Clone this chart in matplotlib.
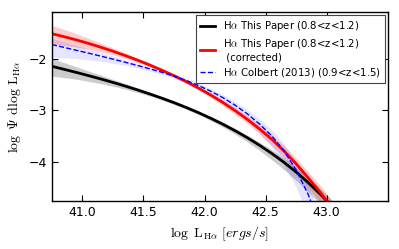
import numpy as np
import matplotlib
matplotlib.use("Agg")
import matplotlib.pyplot as plt

plt.rcParams['mathtext.fontset'] = 'cm'
plt.rcParams['font.family'] = 'DejaVu Sans'

# log L_Halpha grid the curves were read at
log_l = [40.75, 40.85, 40.95, 41.05, 41.15, 41.25, 41.35, 41.45, 41.55, 41.65,
         41.75, 41.85, 41.95, 42.05, 42.15, 42.25, 42.35, 42.45, 42.55, 42.65,
         42.75, 42.85, 42.95, 43.05, 43.15]

# H-alpha LF, this paper (0.8<z<1.2)
y_black = [-2.150, -2.208, -2.268, -2.330, -2.394, -2.461, -2.531, -2.605, -2.683, -2.765,
           -2.852, -2.945, -3.045, -3.153, -3.269, -3.394, -3.529, -3.675, -3.833, -4.005,
           -4.193, -4.399, -4.625, -4.873, -5.145]
err_hi_black = [0.15, 0.13, 0.11, 0.09, 0.075, 0.06, 0.05, 0.04, 0.035, 0.03,
                0.03, 0.03, 0.03, 0.035, 0.04, 0.045, 0.05, 0.06, 0.07, 0.08,
                0.09, 0.10, 0.11, 0.12, 0.13]
err_lo_black = [0.19, 0.16, 0.13, 0.11, 0.09, 0.075, 0.06, 0.05, 0.04, 0.035,
                0.035, 0.035, 0.04, 0.045, 0.055, 0.065, 0.08, 0.10, 0.12, 0.14,
                0.16, 0.18, 0.20, 0.22, 0.24]

# this paper, corrected
y_red = [-1.520, -1.578, -1.640, -1.708, -1.781, -1.859, -1.942, -2.030, -2.124, -2.224,
         -2.331, -2.446, -2.570, -2.704, -2.849, -3.006, -3.176, -3.360, -3.559, -3.784,
         -4.034, -4.309, -4.594, -4.904, -5.250]
err_hi_red = [0.16, 0.14, 0.12, 0.10, 0.08, 0.065, 0.05, 0.04, 0.035, 0.03,
              0.03, 0.03, 0.035, 0.04, 0.05, 0.06, 0.07, 0.08, 0.09, 0.10,
              0.11, 0.12, 0.13, 0.14, 0.15]
err_lo_red = [0.20, 0.17, 0.14, 0.11, 0.09, 0.07, 0.055, 0.045, 0.035, 0.03,
              0.03, 0.035, 0.04, 0.05, 0.06, 0.07, 0.08, 0.10, 0.12, 0.14,
              0.16, 0.18, 0.20, 0.22, 0.24]

# Colbert et al. (2013), 0.9<z<1.5 (drops out of the frame earlier)
y_blue = [-1.730, -1.785, -1.840, -1.896, -1.953, -2.011, -2.071, -2.133, -2.197, -2.265,
          -2.340, -2.424, -2.520, -2.630, -2.756, -2.901, -3.069, -3.264, -3.494, -3.784,
          -4.154, -4.634, -5.300]
err_hi_blue = [0.12, 0.11, 0.10, 0.08, 0.07, 0.06, 0.05, 0.045, 0.04, 0.04,
               0.04, 0.04, 0.045, 0.05, 0.06, 0.07, 0.08, 0.10, 0.12, 0.14,
               0.16, 0.18, 0.20]
err_lo_blue = [0.24, 0.20, 0.16, 0.13, 0.10, 0.08, 0.06, 0.05, 0.045, 0.045,
               0.045, 0.05, 0.06, 0.07, 0.09, 0.11, 0.14, 0.18, 0.22, 0.27,
               0.33, 0.40, 0.50]

labels = ['H$\\alpha$ This Paper (0.8<z<1.2)',
          'H$\\alpha$ This Paper (0.8<z<1.2)\n (corrected)',
          'H$\\alpha$ Colbert (2013) (0.9<z<1.5)']

x = np.array(log_l)
xb = x[:len(y_blue)]

fig = plt.figure(figsize=(3.99, 2.49), dpi=100)
ax = fig.add_axes([0.130, 0.193, 0.842, 0.759])

yk, yr, yb = np.array(y_black), np.array(y_red), np.array(y_blue)
ax.fill_between(x, yk - err_lo_black, yk + err_hi_black, color='k', alpha=0.2, lw=0)
ax.fill_between(x, yr - err_lo_red, yr + err_hi_red, color='r', alpha=0.2, lw=0)
ax.fill_between(xb, yb - err_lo_blue, yb + err_hi_blue, color='b', alpha=0.1, lw=0)

ax.plot(x, yk, color='k', lw=2, label=labels[0])
ax.plot(x, yr, color='r', lw=2, label=labels[1])
ax.plot(xb, yb, color='b', lw=1, ls='--', label=labels[2])

ax.set_xlim(40.75, 43.5)
ax.set_ylim(-4.75, -1.1)
ax.set_xticks([41.0, 41.5, 42.0, 42.5, 43.0])
ax.set_yticks([-2, -3, -4])
ax.tick_params(direction='in', top=True, right=True, labelsize=9, length=4, width=0.8)
for s in ax.spines.values():
    s.set_linewidth(1.0)

ax.set_xlabel(r'$\log\ \mathrm{L}_{\mathrm{H\alpha}}\ [ergs/s]$', fontsize=10)
ax.set_ylabel(r'$\log\ \Psi\ \mathrm{dlog}\ \mathrm{L}_{\mathrm{H\alpha}}$', fontsize=10)

leg = ax.legend(loc='upper right', fontsize=7.3, fancybox=False, framealpha=1,
                borderaxespad=0.3, handlelength=1.5, labelspacing=0.35)
leg.get_frame().set_edgecolor('#444444')
leg.get_frame().set_linewidth(0.8)

fig.savefig('out.png', dpi=100)
